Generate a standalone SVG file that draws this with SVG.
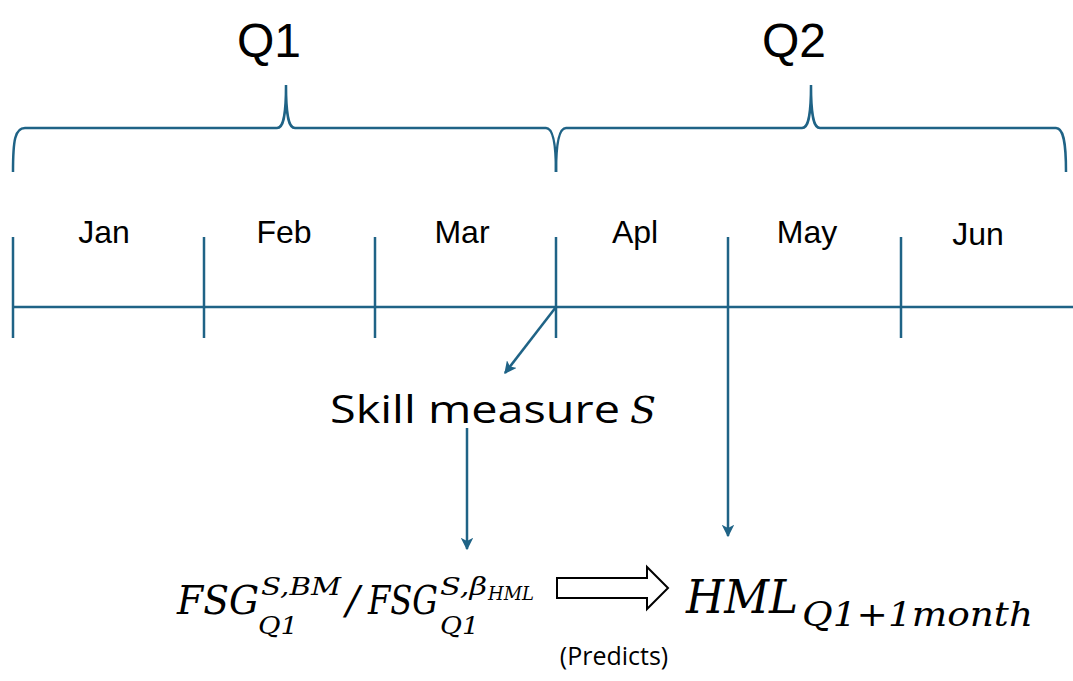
<svg xmlns="http://www.w3.org/2000/svg" width="1073" height="681" viewBox="0 0 1073 681">
<defs>
<marker id="ah" viewBox="0 0 10 10" refX="9" refY="5" markerWidth="5" markerHeight="5" orient="auto" markerUnits="strokeWidth">
<path d="M0,0 L10,5 L0,10 L2.5,5 z" fill="#1f6386"/>
</marker>
<style>
.ln{stroke:#1f6386;stroke-width:2.5;fill:none}
.lbl{font-family:"Open Sans","Liberation Sans",sans-serif;fill:#000}
.q{font-family:"Liberation Sans",Arial,sans-serif;font-size:48px;fill:#000;text-anchor:middle}
.m{font-family:"Liberation Sans",sans-serif;font-size:32px;fill:#000;text-anchor:middle}
.math{font-family:"DejaVu Serif","Liberation Serif",serif;font-style:italic;fill:#000}
</style>
</defs>
<rect width="1073" height="681" fill="#fff"/>
<g id="braces">
<path class="ln" d="M13,172 C13,140 15,128 25,128 H277 C283,128 286,118 286,85 C286,118 289,128 295,128 H546 C552,128 556,140 556,172"/>
<path class="ln" d="M556,172 C556,140 560,128 566,128 H802 C808,128 811,118 811,85 C811,118 814,128 820,128 H1056 C1063,128 1066,140 1066,172"/>
</g>
<g id="quarters">
<text class="q" x="269" y="57">Q1</text>
<text class="q" x="794" y="57">Q2</text>
</g>
<g id="timeline">
<line class="ln" x1="13" y1="307" x2="1073" y2="307"/>
<line class="ln" x1="13" y1="237" x2="13" y2="338"/>
<line class="ln" x1="204" y1="237" x2="204" y2="338"/>
<line class="ln" x1="375" y1="237" x2="375" y2="338"/>
<line class="ln" x1="556" y1="237" x2="556" y2="338"/>
<line class="ln" x1="901" y1="237" x2="901" y2="338"/>
</g>
<g id="months">
<text class="m" x="104" y="243">Jan</text>
<text class="m" x="284" y="243">Feb</text>
<text class="m" x="462" y="243">Mar</text>
<text class="m" x="635" y="243">Apl</text>
<text class="m" x="807" y="243">May</text>
<text class="m" x="978" y="245">Jun</text>
</g>
<g id="connectors">
<line class="ln" x1="556" y1="307" x2="505" y2="373" marker-end="url(#ah)"/>
<line class="ln" x1="467" y1="428" x2="467" y2="549" marker-end="url(#ah)"/>
<line class="ln" x1="728" y1="237" x2="728" y2="536" marker-end="url(#ah)"/>
</g>
<g id="skill">
<text class="lbl" x="330" y="423" font-size="38" textLength="290" lengthAdjust="spacingAndGlyphs">Skill measure</text>
<text class="math" x="630" y="423" font-size="38">S</text>
</g>
<g id="fsg">
<text class="math" x="177" y="614" font-size="40" textLength="82" lengthAdjust="spacingAndGlyphs">FSG</text>
<text class="math" x="261" y="595" font-size="24" textLength="80" lengthAdjust="spacingAndGlyphs">S,BM</text>
<text class="math" x="258" y="634" font-size="24" textLength="40" lengthAdjust="spacingAndGlyphs">Q1</text>
<text class="math" x="346" y="614" font-size="40">/</text>
<text class="math" x="368" y="614" font-size="40" textLength="70" lengthAdjust="spacingAndGlyphs">FSG</text>
<text class="math" x="440" y="595" font-size="24" textLength="47" lengthAdjust="spacingAndGlyphs">S,β</text>
<text class="math" x="488" y="600" font-size="18" textLength="46" lengthAdjust="spacingAndGlyphs">HML</text>
<text class="math" x="440" y="634" font-size="24" textLength="39" lengthAdjust="spacingAndGlyphs">Q1</text>
</g>
<g id="predicts-arrow">
<path d="M557,578 H647 V567 L668,588 L647,609 V598 H557 Z" fill="#fff" stroke="#000" stroke-width="2"/>
</g>
<g id="hml">
<text class="math" x="686" y="613" font-size="46" textLength="112" lengthAdjust="spacingAndGlyphs">HML</text>
<text class="math" x="802" y="626" font-size="33" textLength="231" lengthAdjust="spacingAndGlyphs">Q1+1month</text>
</g>
<g id="predicts">
<text class="lbl" x="614" y="665" font-size="25" text-anchor="middle">(Predicts)</text>
</g>
</svg>
